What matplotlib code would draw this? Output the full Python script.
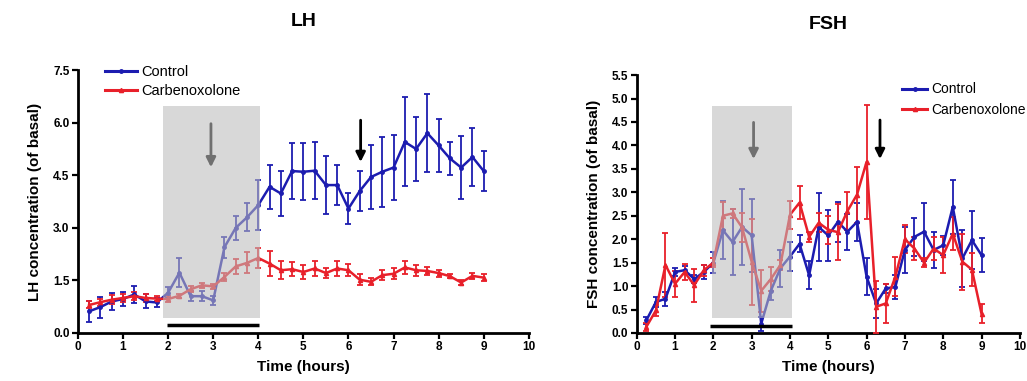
import matplotlib
matplotlib.use("Agg")
import matplotlib.pyplot as plt
from matplotlib.patches import Rectangle
from matplotlib.lines import Line2D
import numpy as np

plt.rcParams['font.family'] = ['Liberation Sans', 'DejaVu Sans']

time_h = [0.25 * i for i in range(1, 37)]

lh_control = [0.62, 0.74, 0.9, 0.97, 1.1, 0.9, 0.87, 1.15, 1.72, 1.05, 1.05, 0.93,
              2.45, 3.0, 3.3, 3.65, 4.17, 3.98, 4.62, 4.6, 4.63, 4.22, 4.22, 3.55,
              4.05, 4.45, 4.6, 4.72, 5.45, 5.25, 5.7, 5.35, 4.98, 4.72, 5.02, 4.62]
lh_control_err = [0.3, 0.3, 0.25, 0.2, 0.25, 0.2, 0.12, 0.15, 0.42, 0.15, 0.15, 0.12,
                  0.3, 0.35, 0.4, 0.72, 0.62, 0.65, 0.8, 0.82, 0.82, 0.82, 0.58, 0.45,
                  0.57, 0.9, 1.0, 0.92, 1.27, 0.9, 1.12, 0.75, 0.48, 0.9, 0.82, 0.58]
lh_carb = [0.8, 0.88, 0.95, 1.0, 1.05, 1.0, 0.98, 0.97, 1.06, 1.25, 1.36, 1.33,
           1.6, 1.9, 2.0, 2.14, 1.98, 1.79, 1.82, 1.74, 1.84, 1.71, 1.84, 1.79,
           1.52, 1.46, 1.65, 1.69, 1.87, 1.79, 1.77, 1.71, 1.62, 1.44, 1.63, 1.58]
lh_carb_err = [0.1, 0.1, 0.12, 0.12, 0.12, 0.12, 0.08, 0.08, 0.06, 0.08, 0.08, 0.08,
               0.12, 0.22, 0.3, 0.28, 0.35, 0.25, 0.2, 0.2, 0.22, 0.15, 0.2, 0.17,
               0.15, 0.1, 0.15, 0.15, 0.18, 0.16, 0.12, 0.1, 0.05, 0.08, 0.08, 0.1]

fsh_control = [0.27, 0.66, 0.73, 1.3, 1.34, 1.15, 1.3, 1.5, 2.19, 1.94, 2.26, 2.08,
               0.2, 0.9, 1.38, 1.63, 1.9, 1.23, 2.26, 2.08, 2.37, 2.16, 2.37, 1.2,
               0.63, 0.95, 0.98, 1.77, 2.05, 2.16, 1.77, 1.87, 2.69, 1.59, 1.98, 1.66]
fsh_control_err = [0.08, 0.1, 0.15, 0.08, 0.08, 0.08, 0.15, 0.22, 0.62, 0.7, 0.8, 0.78,
                   0.15, 0.2, 0.4, 0.3, 0.18, 0.3, 0.73, 0.55, 0.42, 0.38, 0.4, 0.4,
                   0.3, 0.1, 0.25, 0.5, 0.4, 0.62, 0.38, 0.2, 0.58, 0.6, 0.62, 0.37]
fsh_carb = [0.13, 0.48, 1.45, 1.05, 1.3, 1.02, 1.34, 1.5, 2.5, 2.55, 2.25, 1.52,
            0.9, 1.15, 1.45, 2.52, 2.78, 2.05, 2.35, 2.2, 2.15, 2.6, 2.95, 3.65,
            0.56, 0.63, 1.2, 2.0, 1.8, 1.5, 1.8, 1.66, 2.12, 1.52, 1.35, 0.41]
fsh_carb_err = [0.08, 0.12, 0.68, 0.28, 0.18, 0.35, 0.12, 0.1, 0.3, 0.1, 0.3, 0.92,
                0.45, 0.25, 0.1, 0.3, 0.35, 0.1, 0.2, 0.3, 0.6, 0.4, 0.6, 1.22,
                0.55, 0.42, 0.42, 0.3, 0.25, 0.1, 0.25, 0.38, 0.35, 0.6, 0.35, 0.2]

series_labels = ["Control", "Carbenoxolone"]
BLUE = '#1c1cb0'
RED = '#e8202a'

fig = plt.figure(figsize=(10.27, 3.81), dpi=100)
ax1 = fig.add_axes([0.0759, 0.126, 0.439, 0.690])
ax2 = fig.add_axes([0.620, 0.126, 0.373, 0.677])


def style(ax, ymax, ystep, ylabel, title, tpad):
    ax.set_xlim(0, 10)
    ax.set_ylim(0, ymax)
    ax.set_xticks(range(0, 11))
    ax.set_yticks(np.arange(0, ymax + 1e-6, ystep))
    ax.yaxis.set_major_formatter(matplotlib.ticker.FormatStrFormatter('%.1f'))
    for s in ['top', 'right']:
        ax.spines[s].set_visible(False)
    for s in ['left', 'bottom']:
        ax.spines[s].set_linewidth(2)
    ax.tick_params(direction='out', length=4, width=1.6, labelsize=8.5, pad=2)
    for lab in ax.get_xticklabels() + ax.get_yticklabels():
        lab.set_fontweight('bold')
    ax.set_xlabel('Time (hours)', fontsize=11, fontweight='bold', labelpad=5)
    ax.set_ylabel(ylabel, fontsize=11, fontweight='bold', labelpad=8)
    ax.set_title(title, fontsize=14, fontweight='bold', pad=tpad)


def draw(ax, ctrl, ctrl_err, carb, carb_err):
    ax.errorbar(time_h, ctrl, yerr=ctrl_err, color=BLUE, lw=1.8, marker='o', ms=2.5,
                elinewidth=1.3, capsize=2.5, capthick=1.3, zorder=3)
    ax.errorbar(time_h, carb, yerr=carb_err, color=RED, lw=1.8, marker='^', ms=3,
                elinewidth=1.3, capsize=2.5, capthick=1.3, zorder=3)


def legend_handles():
    return [Line2D([], [], color=BLUE, lw=2.2, marker='o', ms=2.5),
            Line2D([], [], color=RED, lw=2.2, marker='^', ms=3)]


draw(ax1, lh_control, lh_control_err, lh_carb, lh_carb_err)
style(ax1, 7.5, 1.5, 'LH concentration (of basal)', 'LH', 32)
ax1.add_patch(Rectangle((1.88, 0.42), 4.03 - 1.88, 6.48 - 0.42, facecolor='#bcbcbc',
                        alpha=0.57, edgecolor='none', zorder=5))
ax1.plot([1.97, 4.02], [0.22, 0.22], color='black', lw=2.5, solid_capstyle='butt', zorder=6)
ax1.annotate('', xy=(2.95, 4.65), xytext=(2.95, 6.05),
             arrowprops=dict(arrowstyle='-|>', color='#707070', lw=2, mutation_scale=14), zorder=7)
ax1.annotate('', xy=(6.27, 4.8), xytext=(6.27, 6.15),
             arrowprops=dict(arrowstyle='-|>', color='black', lw=2, mutation_scale=14), zorder=7)
ax1.legend(legend_handles(), series_labels, loc='upper left', bbox_to_anchor=(0.03, 1.07),
           frameon=False, fontsize=10.5, handlelength=2.2, handletextpad=0.3, labelspacing=0.35)

draw(ax2, fsh_control, fsh_control_err, fsh_carb, fsh_carb_err)
style(ax2, 5.5, 0.5, 'FSH concentration (of basal)', 'FSH', 33)
ax2.add_patch(Rectangle((1.96, 0.31), 4.06 - 1.96, 4.85 - 0.31, facecolor='#bcbcbc',
                        alpha=0.57, edgecolor='none', zorder=5))
ax2.plot([1.9, 4.04], [0.15, 0.15], color='black', lw=2.5, solid_capstyle='butt', zorder=6)
ax2.annotate('', xy=(3.05, 3.65), xytext=(3.05, 4.55),
             arrowprops=dict(arrowstyle='-|>', color='#707070', lw=2, mutation_scale=14), zorder=7)
ax2.annotate('', xy=(6.35, 3.65), xytext=(6.35, 4.6),
             arrowprops=dict(arrowstyle='-|>', color='black', lw=2, mutation_scale=14), zorder=7)
ax2.legend(legend_handles(), series_labels, loc='upper left', bbox_to_anchor=(0.66, 1.02),
           frameon=False, fontsize=10, handlelength=1.8, handletextpad=0.3, labelspacing=0.45)

fig.savefig('out.png', dpi=100)
